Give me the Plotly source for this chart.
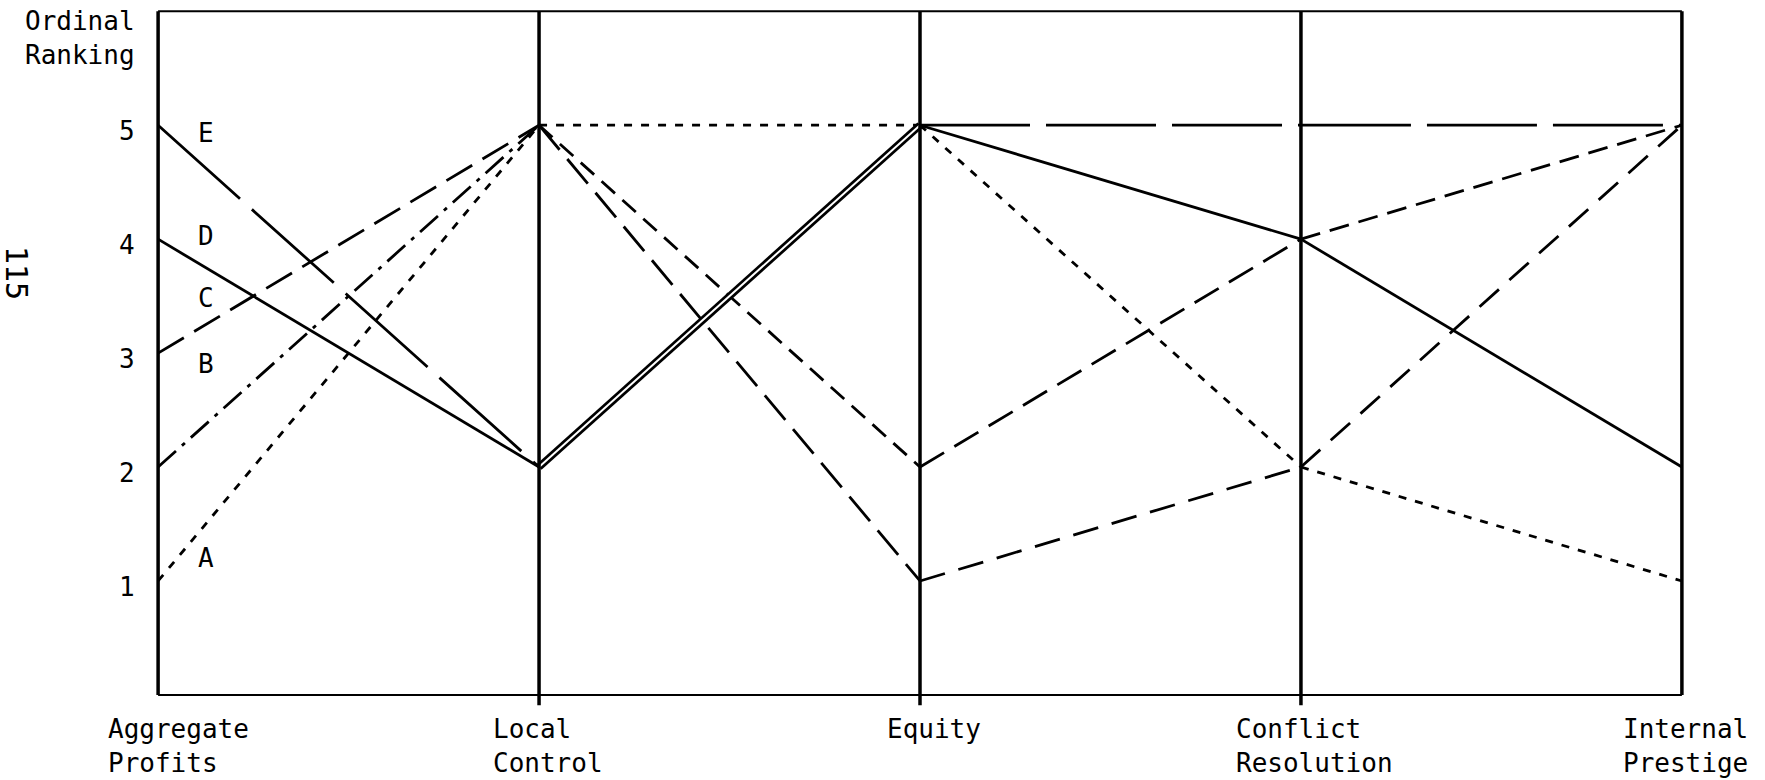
import plotly.graph_objects as go

# ---------------- data ----------------
criteria = ["Aggregate<br>Profits", "Local<br>Control", "Equity",
            "Conflict<br>Resolution", "Internal<br>Prestige"]
alternatives = ["A", "B", "C", "D", "E"]
rank_A = [1, 5, 5, 2, 1]
rank_B = [2, 5, 2, 4, 5]
rank_C = [3, 5, 1, 2, 5]
rank_D = [4, 2, 5, 4, 2]
rank_E = [5, 2, 5, 5, 5]
tick_values = [1, 2, 3, 4, 5]
tick_labels = ["1", "2", "3", "4", "5"]
y_title = "Ordinal<br>Ranking"
page_number = "115"

series = {"A": rank_A, "B": rank_B, "C": rank_C, "D": rank_D, "E": rank_E}

# ---------------- styles ----------------
FONT = "DejaVu Sans Mono"
FS = 26
LW = 2.8
seg_dash = {
    "A": ["8px,9px", "8px,9px", "8px,9px", "8px,9px"],
    "B": ["24px,8px,4px,8px", "18px,10px", "28px,12px", "20px,10px"],
    "C": ["30px,12px", "32px,12px", "26px,14px", "26px,14px"],
    "D": ["solid", "solid", "solid", "solid"],
    "E": ["110px,16px", "110px,16px", "110px,16px", "110px,16px"],
}
label_y = {"A": 1.20, "B": 2.90, "C": 3.48, "D": 4.03, "E": 4.93}
label_x = 0.126
label_xshift = [-52, -48, -35, -67, -61]

W, H = 1765, 780
ML, MR, MT, MB = 120, 45, 9, 68
XR = [-0.1, 4.1]
YR = [-0.15, 6.02]
PW, PH = W - ML - MR, H - MT - MB


def px(X, Y):
    """page pixel -> paper coordinates"""
    return (X - ML) / PW, 1 - (Y - MT) / PH


fig = go.Figure()
n = len(criteria)
xs = list(range(n))

# detect shared segments -> drawn as a double line
seg_owner = {}
for name in alternatives:
    v = series[name]
    for i in range(n - 1):
        key = (i, v[i], v[i + 1])
        seg_owner.setdefault(key, []).append(name)

drawn = set()
for name in alternatives:
    v = series[name]
    for i in range(n - 1):
        key = (i, v[i], v[i + 1])
        owners = seg_owner[key]
        if len(owners) > 1:
            if key in drawn:
                continue
            drawn.add(key)
            fig.add_trace(go.Scatter(x=[xs[i], xs[i + 1]], y=[v[i], v[i + 1]],
                                     mode="lines", line=dict(color="black", width=7.5),
                                     hoverinfo="skip", showlegend=False))
            fig.add_trace(go.Scatter(x=[xs[i], xs[i + 1]], y=[v[i], v[i + 1]],
                                     mode="lines", line=dict(color="white", width=2),
                                     hoverinfo="skip", showlegend=False))
        else:
            fig.add_trace(go.Scatter(x=[xs[i], xs[i + 1]], y=[v[i], v[i + 1]],
                                     mode="lines",
                                     line=dict(color="black", width=LW, dash=seg_dash[name][i]),
                                     hoverinfo="skip", showlegend=False))

shapes = []
for yy in (0, 6):
    shapes.append(dict(type="line", xref="x", yref="y", x0=0, x1=n - 1, y0=yy, y1=yy,
                       line=dict(color="black", width=2)))
for i in xs:
    bottom = 0 if i in (0, n - 1) else -0.09
    shapes.append(dict(type="line", xref="x", yref="y", x0=i, x1=i, y0=bottom, y1=6,
                       line=dict(color="black", width=3.5)))

ann = []
for tv, tl in zip(tick_values, tick_labels):
    ann.append(dict(x=0, y=tv, xref="x", yref="y", text=tl, showarrow=False,
                    xshift=-31, yshift=-6, font=dict(family=FONT, size=FS, color="black")))
for name in alternatives:
    ann.append(dict(x=label_x, y=label_y[name], xref="x", yref="y", text=name,
                    showarrow=False, xanchor="center",
                    font=dict(family=FONT, size=FS, color="black")))
for i, c in enumerate(criteria):
    two = "<br>" in c
    yc = 745.5 if two else 729
    ann.append(dict(x=i, y=px(0, yc)[1], xref="x", yref="paper", text=c, showarrow=False,
                    xanchor="left", yanchor="middle", align="left", xshift=label_xshift[i],
                    font=dict(family=FONT, size=FS, color="black")))
tx, ty = px(23, 38.5)
ann.append(dict(x=tx, y=ty, xref="paper", yref="paper", text=y_title, showarrow=False,
                xanchor="left", yanchor="middle", align="left",
                font=dict(family=FONT, size=FS, color="black")))
rx, ry = px(17, 273)
ann.append(dict(x=rx, y=ry, xref="paper", yref="paper", text=page_number, showarrow=False,
                textangle=90, xanchor="center", yanchor="middle",
                font=dict(family=FONT, size=30, color="black")))

fig.update_layout(
    width=W, height=H, autosize=False,
    margin=dict(l=ML, r=MR, t=MT, b=MB),
    paper_bgcolor="white", plot_bgcolor="white",
    xaxis=dict(range=XR, visible=False, fixedrange=True),
    yaxis=dict(range=YR, visible=False, fixedrange=True),
    shapes=shapes, annotations=ann, showlegend=False,
)

fig.write_html("out.html", config={"displayModeBar": False},
               post_script="document.body.style.margin='0';document.body.style.overflow='hidden';")
